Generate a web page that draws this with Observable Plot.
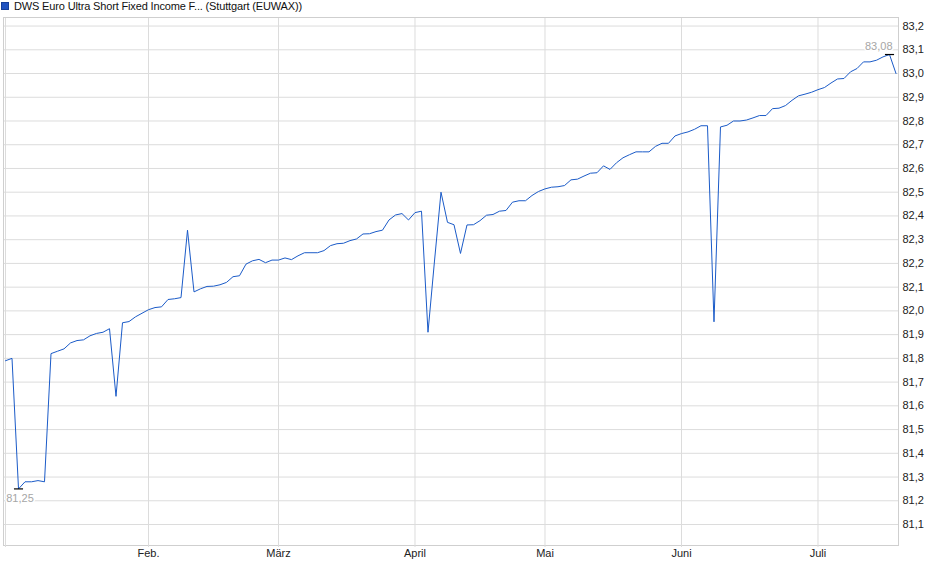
<!DOCTYPE html>
<html>
<head>
<meta charset="utf-8">
<script src="https://cdn.jsdelivr.net/npm/d3@7"></script>
<script src="https://cdn.jsdelivr.net/npm/@observablehq/plot@0.6"></script>
<style>
  body { margin: 0; background: #fff; font-family: "Liberation Sans", Arial, sans-serif; }
  #title { position: relative; height: 16px; font-size: 11px; color: #111; white-space: nowrap; }
  #title .sq { position: absolute; left: 1px; top: 2px; width: 6px; height: 6px; background: #1f52c0; border: 1px solid #163f99; }
  #title .t { position: absolute; left: 14px; top: 0px; line-height: 13px; letter-spacing: -0.15px; }
  #chart svg { display: block; }
</style>
</head>
<body>
<div id="title"><span class="sq"></span><span class="t" id="titleText"></span></div>
<div id="chart"></div>
<script>
const titleText = "DWS Euro Ultra Short Fixed Income F... (Stuttgart (EUWAX))";

// daily closing prices (trading-day sequence, early Jan to mid Jul)
const prices = [
  81.79, 81.80, 81.25, 81.28, 81.28, 81.285, 81.28, 81.82, 81.83, 81.84,
  81.865, 81.875, 81.878, 81.895, 81.905, 81.91, 81.925, 81.64, 81.95, 81.955,
  81.975, 81.99, 82.005, 82.014, 82.017, 82.048, 82.051, 82.056, 82.34, 82.08,
  82.093, 82.103, 82.104, 82.11, 82.12, 82.144, 82.148, 82.197, 82.211, 82.217,
  82.203, 82.214, 82.214, 82.223, 82.216, 82.232, 82.245, 82.245, 82.245, 82.254,
  82.275, 82.283, 82.285, 82.296, 82.303, 82.324, 82.325, 82.334, 82.34, 82.383,
  82.404, 82.41, 82.383, 82.414, 82.42, 81.91, 82.21, 82.50, 82.373, 82.363,
  82.242, 82.362, 82.363, 82.38, 82.403, 82.406, 82.42, 82.423, 82.458, 82.464,
  82.464, 82.486, 82.503, 82.514, 82.521, 82.523, 82.528, 82.552, 82.555, 82.568,
  82.58, 82.582, 82.611, 82.596, 82.624, 82.645, 82.658, 82.67, 82.67, 82.67,
  82.693, 82.706, 82.706, 82.737, 82.747, 82.754, 82.765, 82.78, 82.78, 81.954,
  82.775, 82.782, 82.80, 82.80, 82.804, 82.813, 82.823, 82.823, 82.852, 82.854,
  82.865, 82.887, 82.906, 82.913, 82.921, 82.932, 82.941, 82.96, 82.977, 82.979,
  83.007, 83.021, 83.049, 83.049, 83.056, 83.07, 83.08, 83.00
];

// index of first trading day of each month, and labels
const monthStartIndex = [0, 22, 42, 63, 83, 104, 125];
const monthLabels = ["", "Feb.", "März", "April", "Mai", "Juni", "Juli"];

const yTicks = [81.1, 81.2, 81.3, 81.4, 81.5, 81.6, 81.7, 81.8, 81.9, 82.0, 82.1,
                82.2, 82.3, 82.4, 82.5, 82.6, 82.7, 82.8, 82.9, 83.0, 83.1, 83.2];

document.getElementById("titleText").textContent = titleText;

const de = d3.formatLocale({decimal: ",", thousands: ".", grouping: [3], currency: ["", " €"]});
const f1 = de.format(".1f");
const f2 = de.format(".2f");

const data = prices.map((v, i) => ({i, v}));
const iMin = d3.minIndex(prices);
const iMax = d3.maxIndex(prices);
const extremes = [
  {i: iMin, v: prices[iMin], kind: "min"},
  {i: iMax, v: prices[iMax], kind: "max"}
];

const gridColor = "#dcdcdc";

const chart = Plot.plot({
  width: 940,
  height: 563,
  marginTop: 1,
  marginBottom: 34,
  marginLeft: 3,
  marginRight: 42,
  style: {fontFamily: "'Liberation Sans', Arial, sans-serif", fontSize: "11px", background: "#fff", overflow: "visible"},
  x: {domain: [-0.3077, 137.385], range: [3, 898]},
  y: {domain: [81.0116, 83.236]},
  marks: [
    Plot.gridY(yTicks, {stroke: gridColor, strokeOpacity: 1}),
    Plot.gridX(monthStartIndex, {stroke: gridColor, strokeOpacity: 1}),
    Plot.frame({stroke: "#cfcfcf"}),
    Plot.axisY(yTicks, {anchor: "right", tickSize: 0, tickPadding: 4, tickFormat: f1, fill: "#222", label: null}),
    Plot.axisX(monthStartIndex, {anchor: "bottom", tickSize: 2, tickPadding: 2, stroke: gridColor,
      tickFormat: (d) => monthLabels[monthStartIndex.indexOf(d)], fill: "#222", label: null}),
    Plot.line(data, {x: "i", y: "v", stroke: "#1b5bc8", strokeWidth: 1}),
    Plot.link(extremes, {x1: (d) => d.i - 0.7, x2: (d) => d.i + 0.7, y1: "v", y2: "v", stroke: "#000", strokeWidth: 1.2}),
    Plot.text(extremes.filter(d => d.kind === "min"), {x: "i", y: "v", text: (d) => f2(d.v), dy: 10, dx: 1.5,
      textAnchor: "middle", fill: "#a6a6a6", stroke: "#fff", strokeWidth: 3, fontSize: 11}),
    Plot.text(extremes.filter(d => d.kind === "max"), {x: "i", y: "v", text: (d) => f2(d.v), dy: -8, dx: 3,
      textAnchor: "end", fill: "#a6a6a6", stroke: "#fff", strokeWidth: 3, fontSize: 11})
  ]
});
document.getElementById("chart").appendChild(chart);
</script>
</body>
</html>
